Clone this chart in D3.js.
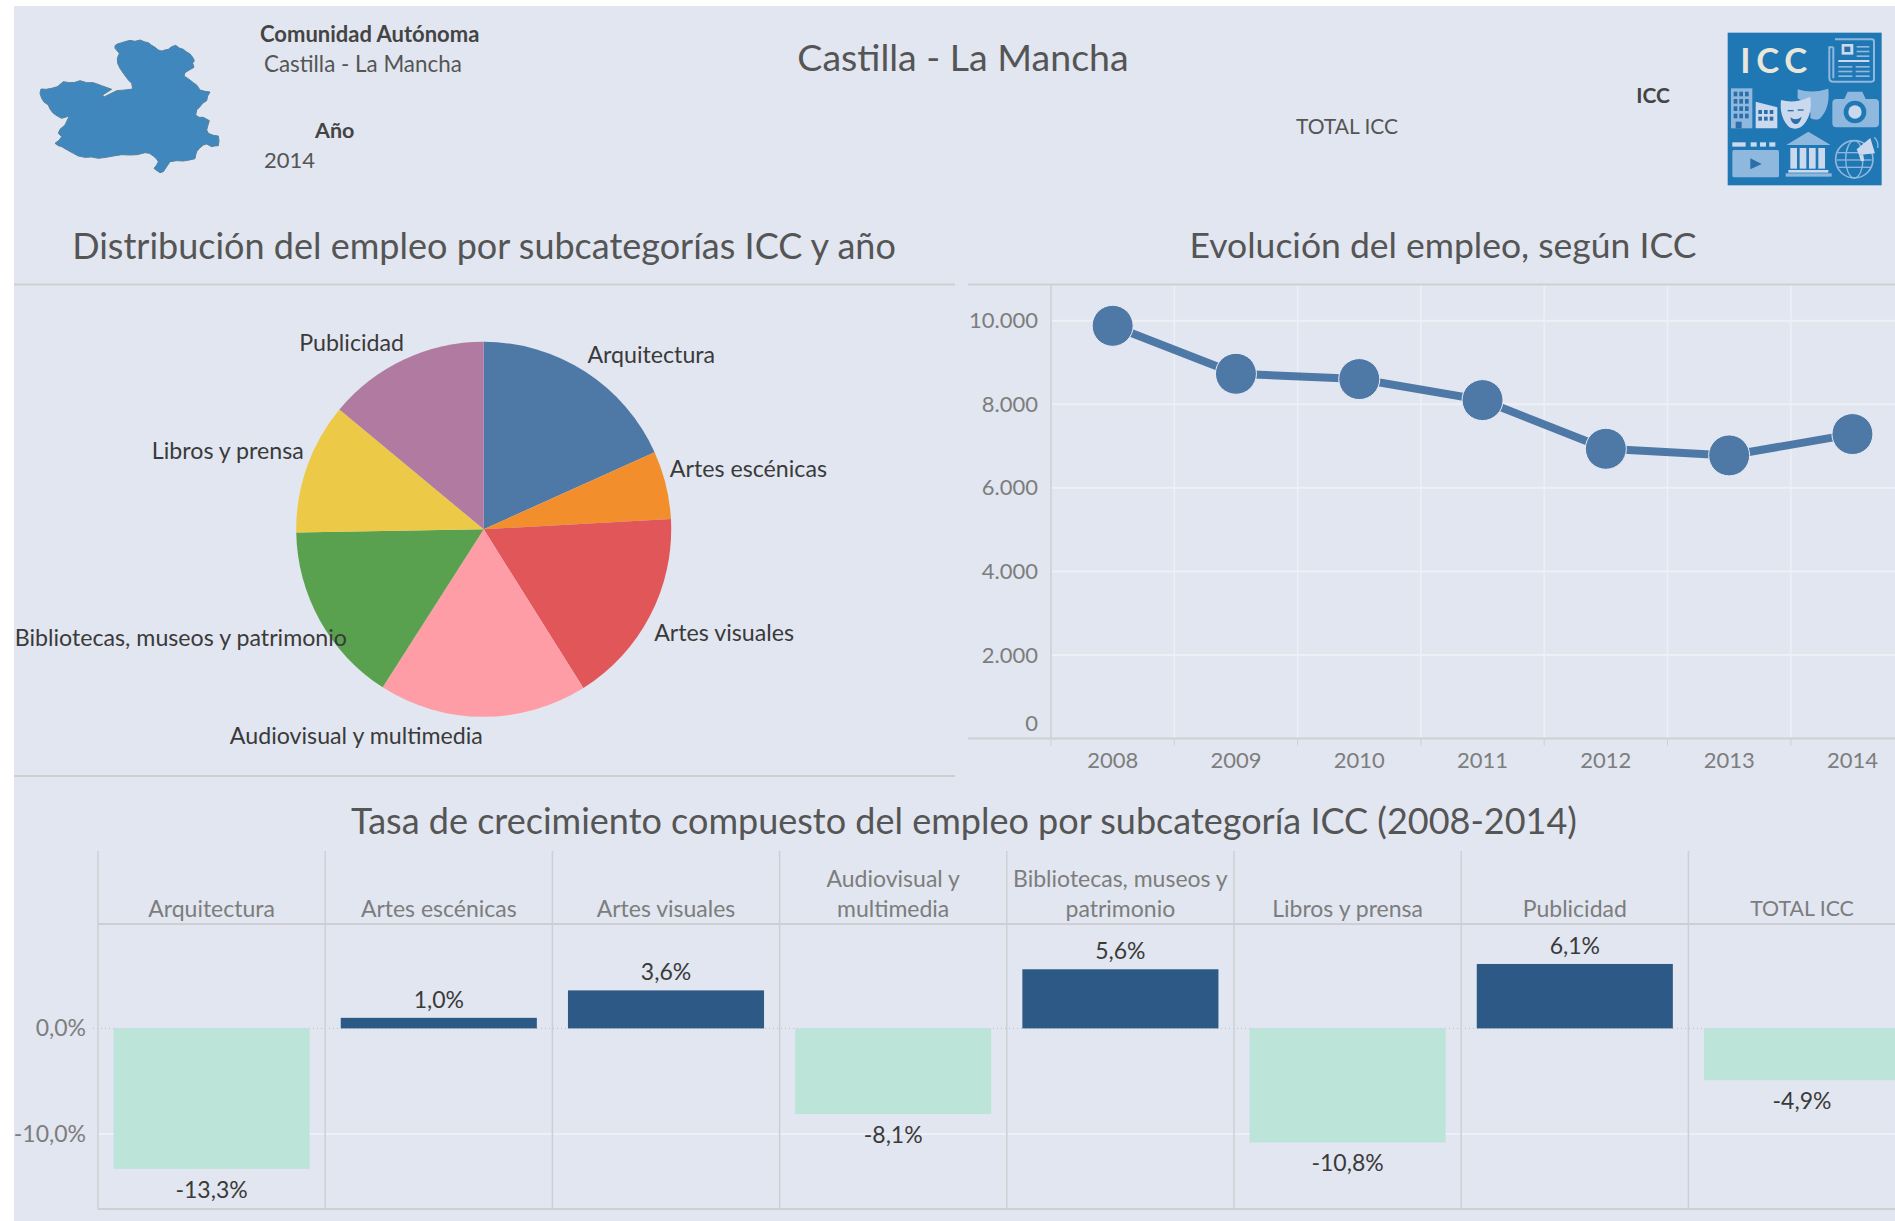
<!DOCTYPE html>
<html>
<head>
<meta charset="utf-8">
<script src="https://cdn.jsdelivr.net/npm/d3@7"></script>
<style>
  body { margin: 0; background: #fff; overflow: hidden; }
  text { font-family: Lato, sans-serif; }
  .domain { display: none; }
</style>
</head>
<body>
<div class="chart"></div>
<script>
// Data
const pieCategories = ['Arquitectura', 'Artes escénicas', 'Artes visuales', 'Audiovisual y multimedia',
  'Bibliotecas, museos y patrimonio', 'Libros y prensa', 'Publicidad'];
const pieValues = [1330, 429, 1235, 1310, 1142, 824, 1018];
const pieColors = ['#4e79a7', '#f28e2b', '#e15759', '#ff9da7', '#59a14f', '#edc948', '#b07aa1'];

const years = ['2008', '2009', '2010', '2011', '2012', '2013', '2014'];
const employment = [9878, 8730, 8603, 8100, 6935, 6777, 7287];
const employmentTicks = [0, 2000, 4000, 6000, 8000, 10000];

const growthHeaders = [['Arquitectura'], ['Artes escénicas'], ['Artes visuales'], ['Audiovisual y', 'multimedia'],
  ['Bibliotecas, museos y', 'patrimonio'], ['Libros y prensa'], ['Publicidad'], ['TOTAL ICC']];
const growthRates = [-13.3, 1.0, 3.6, -8.1, 5.6, -10.8, 6.1, -4.9];
const growthTicks = [0, -10];

// nudges for the pie labels, away from the arc midpoint
const pieLabelNudge = [[2, -17], [4, -16], [4, 17], [0, 19], [27, 17], [-3, -16], [0, -17]];

// outline of the region, traced in a 600x450 box
const regionOutline = [[255,47],[262,42],[275,38],[285,35],[300,31],[315,34],[330,30],[345,36],[355,38],[365,46],
  [375,52],[385,60],[395,63],[405,60],[415,58],[425,50],[437,46],[448,54],[460,58],[470,66],[480,72],[488,82],
  [493,92],[488,100],[492,112],[478,120],[465,128],[462,138],[476,147],[490,158],[500,165],[510,180],[525,184],
  [540,186],[533,198],[530,212],[518,220],[510,230],[500,240],[497,255],[507,262],[520,262],[538,272],[534,285],
  [530,300],[535,310],[550,316],[565,318],[567,332],[565,347],[553,348],[545,350],[530,342],[520,345],[508,355],
  [500,365],[497,375],[495,386],[478,390],[460,393],[440,392],[420,395],[410,410],[400,425],[390,428],[378,420],
  [372,415],[380,405],[385,395],[378,385],[370,378],[358,370],[345,368],[322,374],[300,375],[275,374],[250,378],
  [228,382],[205,385],[185,381],[165,382],[145,378],[130,370],[112,360],[95,350],[85,347],[75,340],[88,330],
  [95,320],[85,310],[90,298],[105,285],[112,270],[118,258],[105,262],[95,265],[82,258],[70,250],[60,237],[55,225],
  [42,216],[35,205],[30,190],[33,177],[48,178],[65,175],[82,170],[100,155],[118,158],[135,157],[150,152],[170,158],
  [190,158],[215,167],[245,178],[232,186],[218,195],[222,201],[240,192],[260,182],[285,180],[308,177],[305,160],
  [295,150],[280,130],[270,115],[263,100],[262,85],[268,70],[255,55]];

const locale = d3.formatLocale({ decimal: ',', thousands: '.', grouping: [3], currency: ['', ''], minus: '-' });
const gridColor = '#eef0f5';
const ruleColor = '#cfcfd3';
const axisText = '#7d7d7d';
const darkText = '#3a3a3a';

var svg = d3.select('.chart')
  .append('svg')
    .attr('width', 1895)
    .attr('height', 1221)
    .style('display', 'block');

svg.append('rect')
  .attr('x', 14)
  .attr('y', 6)
  .attr('width', 1881)
  .attr('height', 1215)
  .style('fill', '#e1e6f0');

function label(parent, x, y, txt, size, color, anchor, weight) {
  return parent.append('text')
    .attr('x', x)
    .attr('y', y)
    .attr('dy', '.35em')
    .attr('text-anchor', anchor || 'middle')
    .style('font-size', size + 'px')
    .style('font-weight', weight || 400)
    .style('fill', color)
    .text(txt);
}

/**
 * Header
 */
const mapX = d3.scaleLinear().domain([0, 600]).range([30, 230]);
const mapY = d3.scaleLinear().domain([0, 450]).range([30, 180]);
svg.append('path')
  .attr('d', d3.line().x(d => mapX(d[0])).y(d => mapY(d[1])).curve(d3.curveLinearClosed)(regionOutline))
  .style('fill', '#3f87bc')
  .style('stroke', '#55839f')
  .style('stroke-width', 1);

label(svg, 260, 34, 'Comunidad Autónoma', 22, '#444', 'start', 700);
label(svg, 264, 64, 'Castilla - La Mancha', 22.4, '#555', 'start');
label(svg, 315, 130, 'Año', 21.5, '#444', 'start', 700);
label(svg, 264, 160, '2014', 22, '#555', 'start');
label(svg, 963, 58, 'Castilla - La Mancha', 37.5, '#555');
label(svg, 1347, 127, 'TOTAL ICC', 21, '#555');
label(svg, 1653, 96, 'ICC', 21, '#444', 'middle', 700);

label(svg, 484, 246, 'Distribución del empleo por subcategorías ICC y año', 36, '#555');
label(svg, 1443, 246, 'Evolución del empleo, según ICC', 35.5, '#555');
label(svg, 964, 821, 'Tasa de crecimiento compuesto del empleo por subcategoría ICC (2008-2014)', 36, '#555');

// ICC logo, drawn in the coordinates of a 480px box
const logo = svg.append('g').attr('transform', 'translate(1725, 30) scale(0.3333)');
const iconFill = '#8fb8df';
const iconLight = '#cbd9ef';
const blue = '#1f77b4';
logo.append('rect').attr('x', 8).attr('y', 8).attr('width', 462).attr('height', 458).style('fill', blue);
logo.append('text')
  .attr('x', 46).attr('y', 128)
  .style('font-size', '104px')
  .style('font-weight', 700)
  .style('letter-spacing', '17px')
  .style('fill', '#e9e7da')
  .text('ICC');

function box(x, y, w, h, fill, rx) {
  return logo.append('rect').attr('x', x).attr('y', y).attr('width', w).attr('height', h)
    .attr('rx', rx || 0).style('fill', fill);
}
function shape(d, fill) {
  return logo.append('path').attr('d', d).style('fill', fill);
}

// newspaper
logo.append('path')
  .attr('d', 'M330 28H440Q447 28 447 35V148Q447 155 440 155H325Q313 155 313 143V52H325M325 52V145')
  .style('fill', 'none').style('stroke', iconFill).style('stroke-width', 6);
box(350, 42, 35, 32, iconLight);
box(358, 50, 18, 16, '#2b6ea8');
[48, 62, 76].forEach(y => box(395, y, 38, 5, iconFill));
[90].forEach(y => box(340, y, 93, 6, iconLight));
[108, 122, 136].forEach(y => { box(340, y, 42, 5, iconFill); box(392, y, 42, 5, iconFill); });

// buildings
box(18, 175, 64, 120, iconFill);
d3.range(4).forEach(r => d3.range(3).forEach(c => box(26 + c * 17, 185 + r * 22, 11, 14, '#2b6ea8')));
box(32, 275, 18, 20, '#2b6ea8');
shape('M92 215L157 232V295H92Z', iconLight);
d3.range(2).forEach(r => d3.range(3).forEach(c => box(100 + c * 17, 240 + r * 20, 11, 12, '#2b6ea8')));

// masks
shape('M218 178Q262 192 310 176Q316 235 284 266Q270 272 256 264Q262 230 218 205Z', iconFill);
shape('M168 210Q210 222 256 200Q264 262 227 292Q210 300 193 292Q162 262 168 210Z', iconLight);
box(188, 240, 18, 4, '#2b6ea8');
box(218, 238, 18, 4, '#2b6ea8');
shape('M196 262Q212 274 230 260Q224 284 210 282Q199 280 196 262Z', '#2b6ea8');

// camera
shape('M335 207H358L368 185H412L422 207H450Q462 207 462 219V280Q462 292 450 292H334Q322 292 322 280V219Q322 207 335 207Z', iconFill);
logo.append('circle').attr('cx', 390).attr('cy', 246).attr('r', 34).style('fill', blue);
logo.append('circle').attr('cx', 390).attr('cy', 246).attr('r', 20).style('fill', iconLight);

// clapper board
box(22, 337, 40, 13, iconLight);
[72, 100, 128].forEach(x => box(x + 5, 337, 18, 13, iconLight));
box(22, 360, 140, 82, iconFill, 5);
shape('M76 385L110 402L76 418Z', '#2b6ea8');

// museum
shape('M250 305L317 345H184Z', iconFill);
[196, 224, 252, 280].forEach(x => box(x, 354, 20, 62, iconLight));
box(190, 420, 120, 8, iconLight);
box(182, 430, 138, 10, iconFill);

// globe with megaphone
logo.append('circle').attr('cx', 388).attr('cy', 388).attr('r', 56)
  .style('fill', 'none').style('stroke', iconFill).style('stroke-width', 5);
logo.append('ellipse').attr('cx', 388).attr('cy', 388).attr('rx', 26).attr('ry', 56)
  .style('fill', 'none').style('stroke', iconFill).style('stroke-width', 4);
[366, 388, 410].forEach(y => box(336, y, 104, 4, iconFill));
shape('M395 358L436 324L450 370L402 375Z', iconLight);
shape('M402 376L414 374L418 392L408 394Z', iconLight);
logo.append('path').attr('d', 'M448 322Q462 336 458 354').style('fill', 'none').style('stroke', iconFill).style('stroke-width', 4);

/**
 * Pie
 */
const pieCenter = { x: 483.7, y: 529.3 };
const pieRadius = 187.5;

svg.append('line').attr('x1', 14).attr('x2', 955).attr('y1', 284.5).attr('y2', 284.5)
  .style('stroke', ruleColor).style('stroke-width', 2);
svg.append('line').attr('x1', 14).attr('x2', 955).attr('y1', 776).attr('y2', 776)
  .style('stroke', ruleColor).style('stroke-width', 2);

const pieArcs = d3.pie().sort(null)(pieValues);
const arc = d3.arc().innerRadius(0).outerRadius(pieRadius);
const pieG = svg.append('g').attr('transform', `translate(${pieCenter.x}, ${pieCenter.y})`);

pieG.selectAll('path')
  .data(pieArcs)
  .join('path')
    .attr('d', arc)
    .style('fill', (d, i) => pieColors[i]);

pieArcs.forEach((d, i) => {
  const mid = (d.startAngle + d.endAngle) / 2;
  const px = Math.sin(mid) * pieRadius + pieLabelNudge[i][0];
  const py = -Math.cos(mid) * pieRadius + pieLabelNudge[i][1];
  label(pieG, px, py, pieCategories[i], 23.2, darkText, mid < Math.PI ? 'start' : 'end');
});

/**
 * Line chart
 */
const lineTop = 284.5;
const lineBottom = 738.6;
const lineLeft = 1051;

const yScale = d3.scaleLinear()
  .domain([0, 10000])
  .range([lineBottom, 320.7]);

const xScale = d3.scaleBand()
  .domain(years)
  .range([lineLeft, lineLeft + 123.3 * years.length]);

// gridlines
svg.append('g')
  .selectAll('line')
  .data(employmentTicks.slice(1))
  .join('line')
    .attr('x1', lineLeft).attr('x2', 1895)
    .attr('y1', d => yScale(d)).attr('y2', d => yScale(d))
    .style('stroke', gridColor).style('stroke-width', 2);

svg.append('g')
  .selectAll('line')
  .data(years.slice(1))
  .join('line')
    .attr('x1', d => xScale(d)).attr('x2', d => xScale(d))
    .attr('y1', lineTop).attr('y2', lineBottom)
    .style('stroke', gridColor).style('stroke-width', 1.5);

const yAxis = d3.axisLeft(yScale)
  .tickValues(employmentTicks)
  .tickFormat(locale.format(',d'))
  .tickSize(0)
  .tickPadding(13);

const yAxisG = svg.append('g')
  .attr('transform', `translate(${lineLeft}, 0)`)
  .call(yAxis);
yAxisG.selectAll('text')
  .style('font-size', '22px')
  .style('font-family', 'Lato, sans-serif')
  .style('fill', axisText);
// the 0 label sits above the axis line
yAxisG.selectAll('.tick').filter(d => d === 0).select('text').attr('y', -15);

const xAxis = d3.axisBottom(xScale).tickSize(0).tickPadding(14);
const xAxisG = svg.append('g')
  .attr('transform', `translate(0, ${lineBottom})`)
  .call(xAxis);
xAxisG.selectAll('text')
  .style('font-size', '22px')
  .style('font-family', 'Lato, sans-serif')
  .style('fill', axisText);

svg.append('g')
  .selectAll('line')
  .data(years)
  .join('line')
    .attr('x1', d => xScale(d)).attr('x2', d => xScale(d))
    .attr('y1', lineBottom).attr('y2', lineBottom + 7)
    .style('stroke', ruleColor);

svg.append('line').attr('x1', 968).attr('x2', 1895).attr('y1', lineTop).attr('y2', lineTop)
  .style('stroke', ruleColor).style('stroke-width', 2);
svg.append('line').attr('x1', 968).attr('x2', 1895).attr('y1', lineBottom).attr('y2', lineBottom)
  .style('stroke', ruleColor).style('stroke-width', 2);
svg.append('line').attr('x1', lineLeft).attr('x2', lineLeft).attr('y1', lineTop).attr('y2', lineBottom)
  .style('stroke', ruleColor).style('stroke-width', 1.5);

const lineX = (d, i) => xScale(years[i]) + xScale.bandwidth() / 2;
svg.append('path')
  .datum(employment)
  .attr('d', d3.line().x(lineX).y(d => yScale(d)))
  .style('fill', 'none')
  .style('stroke', '#4e79a7')
  .style('stroke-width', 8);

svg.append('g')
  .selectAll('circle')
  .data(employment)
  .join('circle')
    .attr('cx', lineX)
    .attr('cy', d => yScale(d))
    .attr('r', 20.5)
    .style('fill', '#4e79a7')
    .style('stroke', '#e8ecf4')
    .style('stroke-width', 1);

/**
 * Growth bars
 */
const barLeft = 98;
const barStep = 227.2;
const barTop = 924;
const barBottom = 1209;
const headTop = 851;

const barX = d3.scaleBand()
  .domain(d3.range(growthRates.length))
  .range([barLeft, barLeft + barStep * growthRates.length])
  .paddingInner(0.137)
  .paddingOuter(0.0685);

const barY = d3.scaleLinear()
  .domain([0, -10])
  .range([1028.4, 1134]);

const colEdge = i => barLeft + barX.step() * i;

svg.append('line').attr('x1', barLeft).attr('x2', 1895)
  .attr('y1', barY(-10)).attr('y2', barY(-10))
  .style('stroke', gridColor).style('stroke-width', 2);
svg.append('line').attr('x1', barLeft - 5).attr('x2', 1895)
  .attr('y1', barY(0)).attr('y2', barY(0))
  .style('stroke', '#b9bcc2').style('stroke-width', 1).style('stroke-dasharray', '1,3');

svg.append('g')
  .selectAll('line')
  .data(d3.range(growthRates.length))
  .join('line')
    .attr('x1', colEdge).attr('x2', colEdge)
    .attr('y1', headTop).attr('y2', barBottom)
    .style('stroke', ruleColor).style('stroke-width', 1.5);

svg.append('line').attr('x1', barLeft).attr('x2', 1895).attr('y1', barTop).attr('y2', barTop)
  .style('stroke', ruleColor).style('stroke-width', 2);
svg.append('line').attr('x1', barLeft).attr('x2', 1895).attr('y1', barBottom).attr('y2', barBottom)
  .style('stroke', ruleColor).style('stroke-width', 2);

svg.append('g')
  .selectAll('rect')
  .data(growthRates)
  .join('rect')
    .attr('x', (d, i) => barX(i))
    .attr('width', barX.bandwidth())
    .attr('y', d => Math.min(barY(d), barY(0)))
    .attr('height', d => Math.abs(barY(d) - barY(0)))
    .style('fill', d => d > 0 ? '#2c5985' : '#bce4d8');

const rateFormat = locale.format('.1f');
growthRates.forEach((d, i) => {
  const cx = barX(i) + barX.bandwidth() / 2;
  label(svg, cx, d > 0 ? barY(d) - 18 : barY(d) + 21, rateFormat(d) + '%', 23, darkText);
  const lines = growthHeaders[i];
  lines.forEach((t, k) => {
    label(svg, cx, 909 - 30 * (lines.length - 1 - k), t, t === 'TOTAL ICC' ? 21.3 : 23, axisText);
  });
});

const growthAxis = d3.axisLeft(barY)
  .tickValues(growthTicks)
  .tickFormat(d => rateFormat(d) + '%')
  .tickSize(0)
  .tickPadding(12);
svg.append('g')
  .attr('transform', `translate(${barLeft}, 0)`)
  .call(growthAxis)
  .selectAll('text')
    .style('font-size', '23px')
    .style('font-family', 'Lato, sans-serif')
    .style('fill', axisText);
</script>
</body>
</html>
